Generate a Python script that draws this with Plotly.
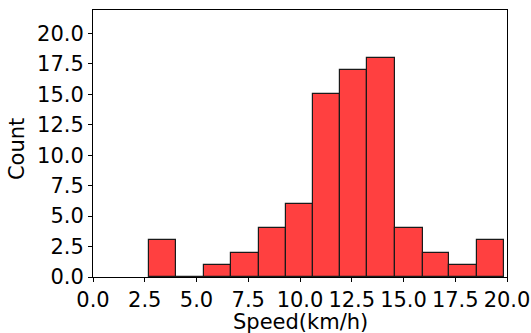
import plotly.graph_objects as go

bin_edges = [2.71, 4.03, 5.35, 6.69, 8.01, 9.32, 10.64, 11.94, 13.26, 14.60, 15.92, 17.22, 18.53, 19.86]
counts = [3, 0, 1, 2, 4, 6, 15, 17, 18, 4, 2, 1, 3]
x_ticks = [0, 2.5, 5, 7.5, 10, 12.5, 15, 17.5, 20]
y_ticks = [0, 2.5, 5, 7.5, 10, 12.5, 15, 17.5, 20]

centers = [(a + b) / 2 for a, b in zip(bin_edges[:-1], bin_edges[1:])]
widths = [b - a for a, b in zip(bin_edges[:-1], bin_edges[1:])]

fig = go.Figure(go.Bar(
    x=centers, y=counts, width=widths,
    marker=dict(color="#ff4040", line=dict(color="#1a1a1a", width=1.2)),
))

font = dict(family="DejaVu Sans", size=21, color="black")
fig.update_layout(
    width=531, height=333,
    margin=dict(l=93, r=24, t=10, b=56),
    paper_bgcolor="white", plot_bgcolor="white",
    font=font, showlegend=False, bargap=0,
    annotations=[
        dict(text="Speed(km/h)", xref="paper", yref="paper", x=0.5, y=-0.17,
             xanchor="center", yanchor="middle", showarrow=False, font=font),
        dict(text="Count", xref="paper", x=-0.183, yref="paper", y=0.48,
             xanchor="center", yanchor="middle", showarrow=False, textangle=-90, font=font),
    ],
)
fig.update_xaxes(
    range=[0, 20], tickvals=x_ticks, tickformat=".1f", automargin=False,
    showline=True, linecolor="black", linewidth=1, mirror=True,
    ticks="outside", ticklen=4, tickcolor="black", showgrid=False, zeroline=False,
)
fig.update_yaxes(
    range=[0, 21.92], tickvals=y_ticks, tickformat=".1f", automargin=False,
    showline=True, linecolor="black", linewidth=1, mirror=True,
    ticks="outside", ticklen=4, tickcolor="black", showgrid=False, zeroline=False,
)
fig.write_html("out.html", config={"displayModeBar": False},
               post_script="document.body.style.margin='0px';")
